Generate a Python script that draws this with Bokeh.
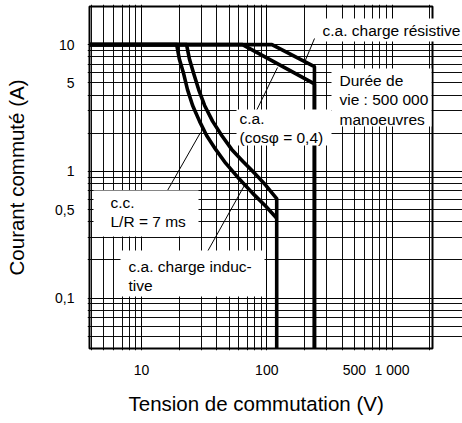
import math
from bokeh.plotting import figure
from bokeh.models import Range1d, FixedTicker, Label, BoxAnnotation, Title
from bokeh.embed import file_html
from bokeh.resources import INLINE

# ---- chart limits (V, A) ----
V_MIN, V_MAX = 3.85, 2100
I_MIN, I_MAX = 0.04, 20

# ---- series ----
# c.a. charge résistive
res_v = [V_MIN, 110, 240, 240]
res_i = [10, 10, 6.7, I_MIN]
# c.a. (cos phi = 0,4)
cos_v = [V_MIN, 64, 240, 240]
cos_i = [10, 10, 4.9, I_MIN]
# c.c. L/R = 7 ms (left curve)
dc7_v = [V_MIN, 19.1, 20.1, 21.7, 23.3, 25.6, 29.1, 33.1, 39.1, 47.0, 58.6, 77.3, 98.2, 120]
dc7_i = [10, 10, 7.62, 5.91, 4.42, 3.31, 2.48, 1.92, 1.49, 1.16, 0.90, 0.67, 0.53, 0.427]
# second d.c. curve (right)
dcr_v = [V_MIN, 22.9, 24.2, 26.1, 28.6, 31.9, 37.0, 43.7, 52.5, 64.3, 80.2, 98.2, 120, 120]
dcr_i = [10, 10, 7.62, 5.91, 4.42, 3.31, 2.48, 1.92, 1.49, 1.20, 0.964, 0.776, 0.61, I_MIN]

# ---- ticks ----
x_ticks = [10, 100, 500, 1000]
x_tick_labels = ["10", "100", "500", "1 000"]
y_ticks = [0.1, 0.5, 1, 5, 10]
y_tick_labels = ["0,1", "0,5", "1", "5", "10"]

x_grid_major = [10, 100, 1000]
x_grid_minor = [4, 5, 6, 7, 8, 9, 20, 30, 40, 50, 60, 70, 80, 90,
                200, 300, 400, 500, 600, 700, 800, 900, 2000]
y_grid_major = [0.1, 1, 10]
y_grid_minor = [0.05, 0.06, 0.07, 0.08, 0.09, 0.2, 0.3, 0.4, 0.5, 0.6,
                0.7, 0.8, 0.9, 2, 3, 4, 5, 6, 7, 8, 9]

FONT = "Liberation Sans"
# chart box in screen pixels (left, top, right, bottom)
BOX_L, BOX_T, BOX_R, BOX_B = 89, 6, 432, 348
# drawing frame (slightly larger so texts may overflow the chart box)
FR_L, FR_T, FR_R, FR_B = 87, 4, 462, 350
W, H = 462, 423


def px2x(px):
    return 10 ** (math.log10(V_MIN) + (px - BOX_L) / (BOX_R - BOX_L) * math.log10(V_MAX / V_MIN))


def py2y(py):
    return 10 ** (math.log10(I_MAX) - (py - BOX_T) / (BOX_B - BOX_T) * math.log10(I_MAX / I_MIN))


p = figure(width=W, height=H, x_axis_type="log", y_axis_type="log",
           x_range=Range1d(px2x(FR_L), px2x(FR_R)), y_range=Range1d(py2y(FR_B), py2y(FR_T)),
           output_backend="svg", toolbar_location=None,
           min_border_left=FR_L, min_border_right=W - FR_R,
           min_border_top=FR_T, min_border_bottom=H - FR_B)
p.background_fill_color = "white"
p.border_fill_color = "white"
p.outline_line_color = None

# grids limited to the chart box
p.xgrid.ticker = FixedTicker(ticks=x_grid_major, minor_ticks=x_grid_minor)
p.ygrid.ticker = FixedTicker(ticks=y_grid_major, minor_ticks=y_grid_minor)
p.xgrid.bounds = (I_MIN, I_MAX)
p.ygrid.bounds = (V_MIN, V_MAX)
for g in (p.xgrid, p.ygrid):
    g.grid_line_color = "black"
    g.grid_line_width = 1
    g.grid_line_alpha = 1
    g.minor_grid_line_color = "black"
    g.minor_grid_line_width = 1
    g.minor_grid_line_alpha = 0.95

# axes
p.xaxis.ticker = FixedTicker(ticks=x_ticks, minor_ticks=[])
p.yaxis.ticker = FixedTicker(ticks=y_ticks, minor_ticks=[])
p.xaxis.major_label_overrides = dict(zip(x_ticks, x_tick_labels))
p.yaxis.major_label_overrides = dict(zip(y_ticks, y_tick_labels))
for ax in (p.xaxis, p.yaxis):
    ax.axis_line_color = None
    ax.major_tick_line_color = None
    ax.minor_tick_line_color = None
    ax.major_tick_in = 0
    ax.major_tick_out = 0
    ax.minor_tick_in = 0
    ax.minor_tick_out = 0
    ax.major_label_text_font = FONT
    ax.major_label_text_font_size = "14px"
    ax.major_label_text_color = "black"
p.xaxis.major_label_standoff = 11
p.yaxis.major_label_standoff = 13
p.yaxis.axis_label = "Courant commuté (A)"
p.yaxis.axis_label_text_font = FONT
p.yaxis.axis_label_text_font_size = "20.5px"
p.yaxis.axis_label_text_font_style = "normal"
p.yaxis.axis_label_text_color = "black"
p.yaxis.axis_label_standoff = 24

# x title placed from the left so it sits under the chart box as in the original
p.add_layout(Title(text="Tension de commutation (V)", align="left", offset=128 - FR_L,
                   text_font=FONT, text_font_size="20.5px", text_font_style="normal",
                   text_color="black", standoff=18), "below")

# chart box outline
p.quad(left=[V_MIN], right=[V_MAX], bottom=[I_MIN], top=[I_MAX],
       fill_color=None, line_color="black", line_width=2)

# curves
for vs, cs in ((res_v, res_i), (cos_v, cos_i), (dc7_v, dc7_i), (dcr_v, dcr_i)):
    p.line(vs, cs, line_color="black", line_width=3.6, line_join="round")

# leader lines (screen positions converted into data coordinates)
leaders = [((314, 38), (304, 62)),
           ((256, 110), (277, 67)),
           ((167, 190), (200, 132)),
           ((207, 251), (245, 183))]
p.segment(x0=[px2x(a[0]) for a, b in leaders], y0=[py2y(a[1]) for a, b in leaders],
          x1=[px2x(b[0]) for a, b in leaders], y1=[py2y(b[1]) for a, b in leaders],
          line_color="black", line_width=1)

# white patches hiding the grid behind the notes
for (l, t, r, b) in [(331, 68, 431, 126), (236, 109, 331, 145),
                     (93, 190, 198, 236), (120, 250, 264, 296)]:
    p.add_layout(BoxAnnotation(left=px2x(l), right=px2x(r), top=py2y(t), bottom=py2y(b),
                               fill_color="white", fill_alpha=1, line_color=None))

notes = [
    ("c.a. charge résistive", 319, 27, True),
    ("Durée de\nvie : 500 000\nmanoeuvres", 339, 80, False),
    ("c.a.\n(cosφ = 0,4)", 239, 118, False),
    ("c.c.\nL/R = 7 ms", 110, 202, False),
    ("c.a. charge induc-\ntive", 128, 266, False),
]
for txt, lx, cy, bg in notes:
    lab = Label(x=px2x(lx), y=py2y(cy - 9), text=txt, text_font=FONT,
                text_font_size="15.5px", text_color="black", text_align="left",
                text_baseline="top", text_line_height=1.17)
    if bg:
        lab.background_fill_color = "white"
        lab.background_fill_alpha = 1
        lab.padding = 3
    p.add_layout(lab)

open("out.html", "w").write(file_html(p, INLINE))
